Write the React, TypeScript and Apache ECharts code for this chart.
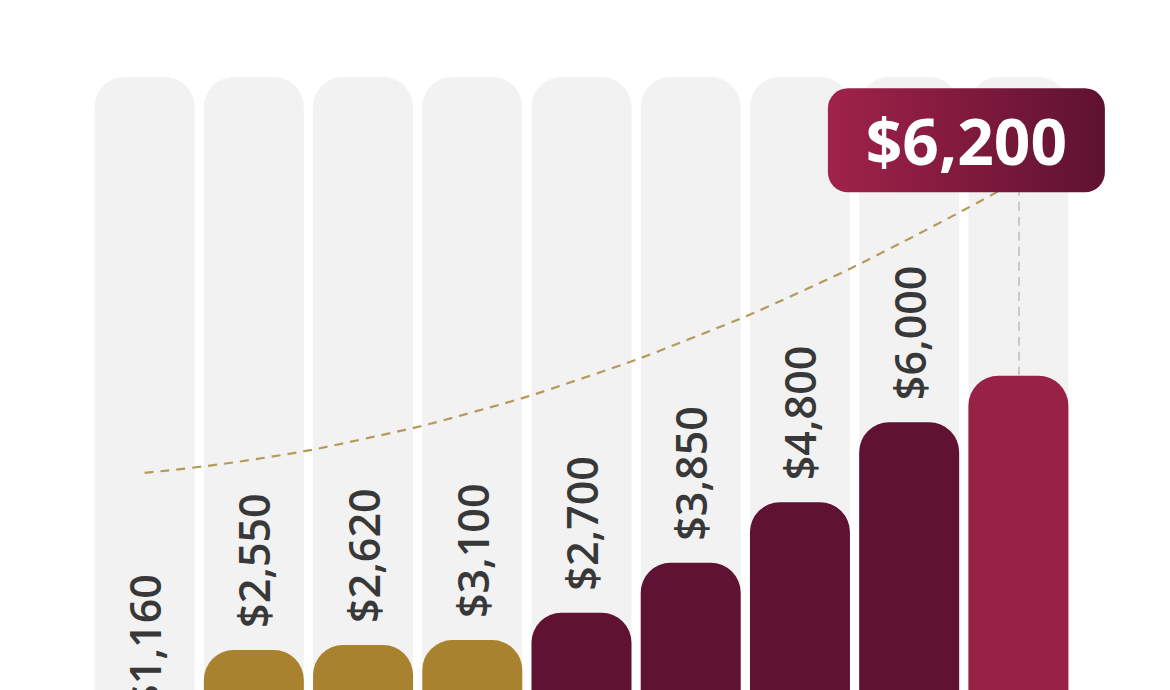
import React, { useEffect, useRef } from 'react';
import * as echarts from 'echarts';

// ---- data ----
const categories = ['1', '2', '3', '4', '5', '6', '7', '8', '9'];
const priceLabels = ['$1,160', '$2,550', '$2,620', '$3,100', '$2,700', '$3,850', '$4,800', '$6,000', '$6,200'];
// visual heights of the bars (0–100 track scale)
const barLevels = [7.0, 18.5, 19.2, 19.9, 23.8, 30.9, 39.5, 50.9, 57.5];
// dashed growth curve (same 0–100 scale)
const trendLevels = [43.7, 45.6, 48.5, 52.3, 57.1, 62.8, 69.4, 77.0, 85.3];
const barGroups = ['gold', 'gold', 'gold', 'gold', 'maroon', 'maroon', 'maroon', 'maroon', 'crimson'];
const trackMax = 100;
const calloutLevel = 91;
const calloutLineTop = 83.6;

const groupColors: Record<string, string> = {
  gold: '#a8822e',
  maroon: '#601232',
  crimson: '#982146',
};

const FONT = '"Open Sans", "Noto Sans", sans-serif';
const CALLOUT_SHAPE =
  'path://M20,0H257A20,20 0 0 1 277,20V84A20,20 0 0 1 257,104H20A20,20 0 0 1 0,84V20A20,20 0 0 1 20,0Z';

export default function App() {
  const ref = useRef<HTMLDivElement>(null);

  useEffect(() => {
    if (!ref.current) return;
    const chart = echarts.init(ref.current, null, { renderer: 'svg' });
    const last = categories.length - 1;

    const barData = barLevels.map((v, i) => ({
      value: v,
      itemStyle: { color: groupColors[barGroups[i]] },
      label: { show: i !== last, formatter: priceLabels[i] },
    }));

    chart.setOption({
      animation: false,
      backgroundColor: '#ffffff',
      grid: { left: 90, right: 97, top: 77, bottom: 20 },
      xAxis: { type: 'category', data: categories, show: false },
      yAxis: { type: 'value', min: 0, max: trackMax, show: false },
      series: [
        {
          type: 'bar',
          name: 'track',
          data: categories.map(() => trackMax),
          barWidth: 100,
          barGap: '-100%',
          silent: true,
          z: 1,
          itemStyle: { color: '#f2f2f2', borderRadius: [30, 30, 0, 0] },
        },
        {
          type: 'bar',
          name: 'price',
          data: barData,
          barWidth: 100,
          z: 2,
          itemStyle: { borderRadius: [30, 30, 0, 0] },
          label: {
            show: true,
            position: 'top',
            rotate: 90,
            align: 'left',
            verticalAlign: 'middle',
            distance: 22,
            fontSize: 43,
            fontWeight: 600,
            fontFamily: FONT,
            color: '#383838',
          },
          markLine: {
            silent: true,
            symbol: ['none', 'none'],
            label: { show: false },
            lineStyle: { color: '#c9c9c9', type: [9, 6], width: 2 },
            data: [
              [
                { coord: [categories[last], barLevels[last]] },
                { coord: [categories[last], calloutLineTop] },
              ],
            ],
          },
          markPoint: {
            silent: true,
            z: 10,
            symbol: CALLOUT_SHAPE,
            symbolKeepAspect: false,
            symbolSize: [277, 104],
            symbolOffset: [-52, 0],
            itemStyle: {
              color: new echarts.graphic.LinearGradient(0, 0, 1, 0, [
                { offset: 0, color: '#a1224a' },
                { offset: 1, color: '#5e1230' },
              ]),
            },
            label: {
              show: true,
              position: 'inside',
              formatter: priceLabels[last],
              color: '#ffffff',
              fontSize: 64,
              fontWeight: 'bold',
              fontFamily: FONT,
            },
            data: [{ coord: [categories[last], calloutLevel] }],
          },
        },
        {
          type: 'line',
          name: 'trend',
          data: trendLevels,
          smooth: true,
          symbol: 'none',
          silent: true,
          z: 3,
          lineStyle: { color: '#b59a58', width: 2.2, type: [9, 7] },
        },
      ],
    });

    return () => chart.dispose();
  }, []);

  return (
    <div
      ref={ref}
      style={{ position: 'fixed', left: 0, top: 0, width: 1170, height: 800, background: '#fff' }}
    />
  );
}
